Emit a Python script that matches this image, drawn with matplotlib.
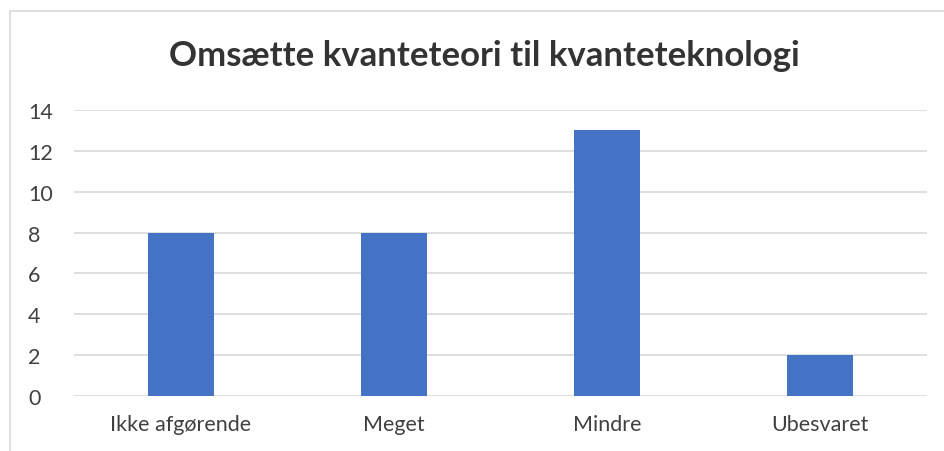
import matplotlib.pyplot as plt
from matplotlib.patches import Rectangle

# data
categories = ['Ikke afgørende', 'Meget', 'Mindre', 'Ubesvaret']
counts = [8, 8, 13, 2]
y_ticks = [0, 2, 4, 6, 8, 10, 12, 14]

plt.rcParams['font.family'] = ['Lato', 'DejaVu Sans']

W, H = 944, 452
fig = plt.figure(figsize=(W / 100, H / 100), dpi=100)

# chart frame (left and top edges visible)
fig.add_artist(Rectangle((10 / W, -0.1), 1.2, (H - 12) / H + 0.1,
                         transform=fig.transFigure, fill=False,
                         edgecolor='#d9d9d9', linewidth=1.2))

ax = fig.add_axes([74 / W, 1 - 397 / H, (927 - 74) / W, (397 - 111) / H])
x = range(len(categories))
ax.bar(x, counts, width=0.31, color='#4472C4', zorder=3)

ax.set_xlim(-0.5, len(categories) - 0.5)
ax.set_ylim(0, 14)
ax.set_yticks(y_ticks)
ax.set_xticks(list(x))
ax.set_xticklabels(categories)
ax.grid(axis='y', color='#d9d9d9', linewidth=1.2, zorder=0)
for s in ax.spines.values():
    s.set_visible(False)
ax.tick_params(length=0, labelsize=15.5, labelcolor='#404040')
ax.tick_params(axis='y', pad=33)
ax.tick_params(axis='x', pad=13)
for lbl in ax.get_yticklabels():
    lbl.set_horizontalalignment('left')

fig.text(484 / W, 1 - 56 / H, 'Omsætte kvanteteori til kvanteteknologi',
         ha='center', va='center', fontsize=25, fontweight='bold',
         color='#333333')

fig.savefig('out.png', dpi=100, facecolor='white')
